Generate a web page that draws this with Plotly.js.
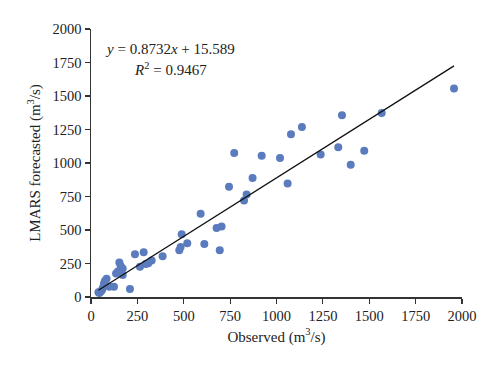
<!DOCTYPE html>
<html>
<head>
<meta charset="utf-8">
<script src="https://cdn.plot.ly/plotly-3.0.1.min.js"></script>
<style>html,body{margin:0;padding:0;background:#fff;}#chart{width:500px;height:369px;}</style>
</head>
<body>
<div id="chart"></div>
<script>
const observed   = [1957,1567,1473,1400,1353,1333,1238,1137,1078,1060,1019,920,871,839,825,772,744,704,694,677,611,591,519,489,483,476,386,327,309,295,284,264,237,210,171,171,160,153,145,135,124,99,84,75,70,65,60,55,50,45,40];
const forecasted = [1556,1374,1092,987,1356,1117,1064,1269,1214,847,1037,1055,888,765,720,1075,823,526,349,514,396,621,401,468,374,349,305,273,252,247,334,226,319,60,165,213,232,257,190,175,77,77,137,120,100,70,55,45,40,30,35];
const slope = 0.8732, intercept = 15.589;
const lineX = [Math.min(...observed), Math.max(...observed)];
const lineY = lineX.map(v => slope * v + intercept);
const xTicks = [0,250,500,750,1000,1250,1500,1750,2000];
const yTicks = [0,250,500,750,1000,1250,1500,1750,2000];

const fam = '"Liberation Serif", "DejaVu Serif", serif';
const font = {family: fam, size: 15, color: '#222'};
const tickFont = {family: fam, size: 14.5, color: '#222'};

Plotly.newPlot('chart', [
  {x: observed, y: forecasted, mode: 'markers', type: 'scatter',
   marker: {color: '#5a7bbd', size: 8}, cliponaxis: false, hoverinfo: 'none'},
  {x: lineX, y: lineY, mode: 'lines', type: 'scatter',
   line: {color: '#111', width: 1.3}, hoverinfo: 'none'}
], {
  width: 500, height: 369,
  margin: {l: 91, r: 38, t: 29, b: 72},
  paper_bgcolor: '#fff', plot_bgcolor: '#fff',
  showlegend: false,
  font: font,
  xaxis: {range: [0, 2000], tickvals: xTicks, ticktext: xTicks.map(String),
    showgrid: false, zeroline: false, showline: true, linecolor: '#333', linewidth: 1.5,
    ticks: 'outside', ticklen: 5, tickcolor: '#333', tickwidth: 1.2,
    tickfont: tickFont, fixedrange: true,
    title: {text: 'Observed (m<sup>3</sup>/s)', font: font, standoff: 8}},
  yaxis: {range: [0, 2000], tickvals: yTicks, ticktext: yTicks.map(String),
    showgrid: false, zeroline: false, showline: true, linecolor: '#333', linewidth: 1.5,
    ticks: 'outside', ticklen: 5, tickcolor: '#333', tickwidth: 1.2,
    tickfont: tickFont, fixedrange: true,
    title: {text: 'LMARS forecasted (m<sup>3</sup>/s)', font: font, standoff: 8}},
  annotations: [
    {xref: 'paper', yref: 'paper', x: 0.213, y: 0.925, xanchor: 'center', yanchor: 'middle',
     text: '<i>y</i> = 0.8732<i>x</i> + 15.589', showarrow: false, font: font},
    {xref: 'paper', yref: 'paper', x: 0.213, y: 0.851, xanchor: 'center', yanchor: 'middle',
     text: '<i>R</i><sup>2</sup> = 0.9467', showarrow: false, font: font}
  ]
}, {staticPlot: true});
</script>
</body>
</html>
